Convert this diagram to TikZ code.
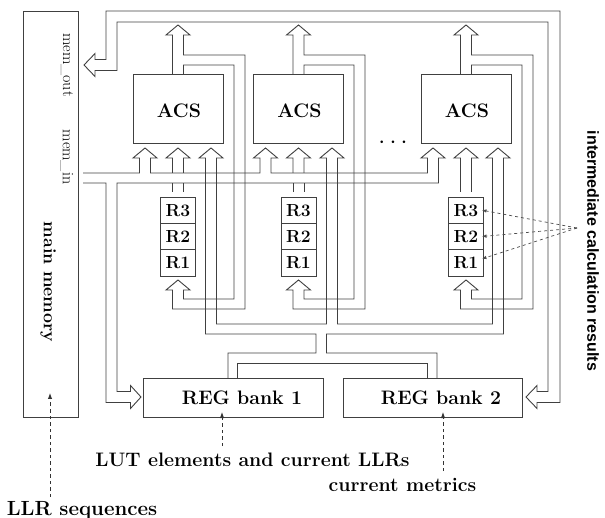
\documentclass[tikz,border=0pt]{standalone}
\usepackage{fontspec}
\newfontfamily\intfont{Liberation Sans}
\usetikzlibrary{arrows.meta}
\begin{document}
\begin{tikzpicture}[x=1pt,y=-1pt,
  bus/.style={draw=black!75,line width=0.9pt,line join=miter},
  box/.style={draw=black!75,line width=0.9pt,inner sep=0pt},
  lbl/.style={font=\fontsize{19.5}{20}\selectfont\bfseries},
  rlbl/.style={font=\fontsize{17.5}{18}\selectfont\bfseries},
  memlbl/.style={font=\fontsize{16}{16}\selectfont,rotate=-90},
  dasharr/.style={draw=black!80,line width=1pt,dash pattern=on 3.5pt off 3pt,-{Latex[length=6pt,width=4.5pt]}},
  thindash/.style={draw=black!70,line width=0.7pt,dash pattern=on 3pt off 3pt,-{Latex[length=4.5pt,width=3.5pt]}}
]
\useasboundingbox (0,0) rectangle (605,518);

% main memory
\node[box,minimum width=55pt,minimum height=406pt] (mem) at (50.5,214) {};
\node[memlbl] (memout) at (67,65) {mem\_out};
\node[memlbl] (memin) at (67,157) {mem\_in};
\node[font=\fontsize{17.7}{18}\selectfont\bfseries,rotate=-90] (memname) at (48,282) {main memory};

% ACS units, registers, output loops
\foreach \c/\r/\i in {178/223/1,298.5/343/2,466/511/3}{
  \node[box,minimum width=90pt,minimum height=69pt] (acs\i) at (\c,108.5) {};
  \node[lbl] (acstxt\i) at ({\c+1},111) {ACS};
  \node[box,rlbl,minimum width=35pt,minimum height=26.33pt] (rthree\i) at (\c,210.17) {R3};
  \node[box,rlbl,minimum width=35pt,minimum height=26.33pt] (rtwo\i) at (\c,236.5) {R2};
  \node[box,rlbl,minimum width=35pt,minimum height=26.33pt] (rone\i) at (\c,262.83) {R1};
  \draw[bus] ({\c-5.5},74) -- ({\c-5.5},35) -- ({\c-12},35) -- (\c,25) -- ({\c+12},35) -- ({\c+5.5},35)
     -- ({\c+5.5},55) -- ({\r+22},55) -- ({\r+22},309) -- ({\c-5.5},309) -- ({\c-5.5},290)
     -- ({\c-12},290) -- (\c,280) -- ({\c+12},290) -- ({\c+5.5},290) -- ({\c+5.5},299)
     -- ({\r+11},299) -- ({\r+11},65) -- ({\c+5.5},65) -- ({\c+5.5},74);
}

% middle inputs (from registers)
\foreach \c in {178,298.5}{
  \draw[bus] ({\c-5.5},192) -- ({\c-5.5},183) ({\c+5.5},192) -- ({\c+5.5},183);
  \draw[bus] ({\c-5.5},173) -- ({\c-5.5},158) -- ({\c-12},158) -- (\c,148) -- ({\c+12},158) -- ({\c+5.5},158) -- ({\c+5.5},173);
}
\draw[bus] (460.5,192) -- (460.5,158) -- (454,158) -- (466,148) -- (478,158) -- (471.5,158) -- (471.5,192);

\node (dots) at (393,143) {\fontsize{26}{26}\selectfont$\cdots$};

% REG banks
\node[box,minimum width=180pt,minimum height=39pt] (reg1) at (233,397.5) {};
\node[lbl] (reg1txt) at (242,397.5) {REG bank 1};
\node[box,minimum width=179pt,minimum height=39pt] (reg2) at (432.5,397.5) {};
\node[lbl] (reg2txt) at (441,397.5) {REG bank 2};

% top bus: ACS outputs to memory and REG bank 2
\draw[bus] (95,59.5) -- (106,59.5) -- (106,11) -- (560,11) -- (560,402.5) -- (537,402.5) -- (537,408.5)
  -- (526,397) -- (537,385.5) -- (537,391.5) -- (548,391.5) -- (548,22) -- (117,22) -- (117,70.5)
  -- (95,70.5) -- (95,76.5) -- (84,65) -- (95,53.5) -- cycle;

% mem_in bus: to left ACS inputs and REG bank 1
\draw[bus] (83,173) -- (139.5,173) -- (139.5,158) -- (133,158) -- (145,148) -- (157,158) -- (150.5,158) -- (150.5,173)
  -- (260,173) -- (260,158) -- (253.5,158) -- (265.5,148) -- (277.5,158) -- (271,158) -- (271,173)
  -- (427.5,173) -- (427.5,158) -- (421,158) -- (433,148) -- (445,158) -- (438.5,158) -- (438.5,183)
  -- (117,183) -- (117,391.5) -- (130.5,391.5) -- (130.5,385.5) -- (141,397) -- (130.5,408.5) -- (130.5,402.5)
  -- (106,402.5) -- (106,183) -- (83,183);

% REG banks to right ACS inputs
\draw[bus] (228,378) -- (228,353) -- (316,353) -- (316,334) -- (205.5,334) -- (205.5,158) -- (199,158) -- (211,148)
  -- (223,158) -- (216.5,158) -- (216.5,324) -- (326.5,324) -- (326.5,158) -- (320,158) -- (332,148) -- (344,158)
  -- (337.5,158) -- (337.5,324) -- (492.5,324) -- (492.5,158) -- (486,158) -- (498,148) -- (510,158) -- (503.5,158)
  -- (503.5,334) -- (326.5,334) -- (326.5,353) -- (437,353) -- (437,378);
\draw[bus] (237,378) -- (237,363) -- (427,363) -- (427,378);

% external labels and dashed arrows
\node[font=\fontsize{20.5}{21}\selectfont\bfseries] (llr) at (82,510) {LLR sequences};
\node[lbl] (lut) at (252.5,460) {LUT elements and current LLRs};
\node[lbl] (cm) at (402.5,485) {current metrics};
\node[font=\fontsize{16}{16}\selectfont\intfont\bfseries,rotate=-90] (inter) at (593,251) {intermediate calculation results};

\coordinate (llrsrc) at (50,497);
\coordinate (llrtip) at (50,393);
\coordinate (lutsrc) at (222,446);
\coordinate (luttip) at (222,412);
\coordinate (cmsrc) at (443,471);
\coordinate (cmtip) at (443,412);
\coordinate (isrc) at (577,228);
\draw[dasharr] (llrsrc) -- (llrtip);
\draw[dasharr] (lutsrc) -- (luttip);
\draw[dasharr] (cmsrc) -- (cmtip);
\draw[thindash] (isrc) -- ([xshift=-2pt]rthree3.east);
\draw[thindash] (isrc) -- ([xshift=-2pt]rtwo3.east);
\draw[thindash] (isrc) -- ([xshift=-2pt,yshift=4pt]rone3.east);
\end{tikzpicture}
\end{document}
